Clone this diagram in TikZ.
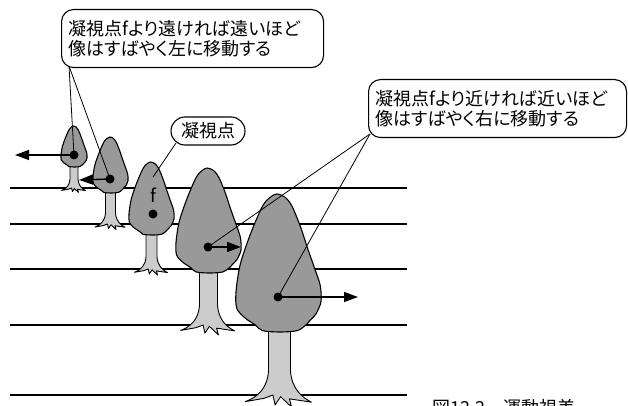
\documentclass[tikz,border=0pt]{standalone}
\usepackage{fontspec}
\newfontfamily\jp[RawFeature=+palt]{Noto Sans CJK JP}
\usetikzlibrary{arrows.meta}
\definecolor{crowngray}{RGB}{153,153,153}
\definecolor{trunkgray}{RGB}{204,204,204}

\tikzset{
  groundline/.style={line width=2.6pt},
  crownfill/.style={fill=crowngray, draw=black, line width=1.1pt},
  trunkfill/.style={fill=trunkgray, draw=black, line width=0.9pt, line join=round},
  motion/.style={line width=1.4pt, -{Triangle[length=14pt,width=10pt]}},
  dot/.style={circle, fill=black, inner sep=0pt, minimum size=9pt},
  leader/.style={line width=0.8pt},
  callbox/.style={draw, line width=1.1pt, fill=white, rounded corners=12pt,
    font=\jp\fontsize{18}{20.5}\selectfont, align=left, inner xsep=7pt},
  jplabel/.style={font=\jp\fontsize{18}{20.5}\selectfont, inner sep=0pt}
}

% trunk with roots: cx, crown top, crown width, crown height, half trunk width, ground
\newcommand\treetrunk[6]{%
  \pgfmathsetmacro\trtop{(#2+#4-4-#6)/#5}%
  \begin{scope}[shift={(#1,#6)}, scale=#5]
    \filldraw[trunkfill] (-1,\trtop) -- (-1,-2.2)
      .. controls (-1.1,-0.6) and (-2,0.2) .. (-3.1,0.6)
      -- (-1.4,0.3) -- (-0.6,0) -- (-0.4,0.9) -- (0.1,0.15) -- (1.1,1.1)
      -- (0.9,0.35) -- (2.9,0.65)
      .. controls (2,0.2) and (1.1,-0.6) .. (1,-2.2) -- (1,\trtop) -- cycle;
  \end{scope}}

% crown: cx, top, width, height
\newcommand\treecrown[4]{%
  \begin{scope}[shift={(#1,#2)}, xscale=#3, yscale=#4]
    \filldraw[crownfill] plot[smooth cycle, tension=0.5] coordinates {
      (-0.02,0) (-0.10,0.025) (-0.19,0.09) (-0.33,0.29) (-0.45,0.51)
      (-0.50,0.71) (-0.49,0.83) (-0.39,0.90) (-0.27,0.95) (-0.19,0.99)
      (0.02,1.0) (0.22,0.99) (0.32,0.95) (0.38,0.91) (0.44,0.87)
      (0.50,0.78) (0.49,0.66) (0.42,0.53) (0.34,0.39) (0.26,0.24)
      (0.16,0.09) (0.08,0.025)};
  \end{scope}}

\begin{document}
\begin{tikzpicture}[x=1pt, y=-1pt]
\useasboundingbox (0,0) rectangle (628,406);

% ground lines
\foreach \gy in {188,224,269,325,395}
  \draw[groundline] (10,\gy) -- (407,\gy);

% trunks
\treetrunk{74}{126}{26}{41}{4}{188}
\treetrunk{110.5}{137}{35}{56}{5}{224}
\treetrunk{151.5}{162}{45}{73}{5.5}{269}
\treetrunk{208.5}{168}{65}{105}{9}{325}
\treetrunk{279.5}{194}{85}{138}{11}{395}

% crowns
\treecrown{74}{126}{26}{41}
\treecrown{110.5}{137}{35}{56}
\treecrown{151.5}{162}{45}{73}
\treecrown{208.5}{168}{65}{105}
\treecrown{278.5}{194}{85}{138}

% image points on the crowns
\node[dot] (d1) at (74,155) {};
\node[dot] (d2) at (110,179) {};
\node[dot] (d3) at (153,214) {};
\node[dot] (d4) at (208,247) {};
\node[dot] (d5) at (278,297) {};
\node[jplabel] (f) at (153,195) {f};

% motion arrows
\coordinate (m1) at (15,155);
\coordinate (m2) at (79,180);
\coordinate (m4) at (241,247);
\coordinate (m5) at (358,297);
\draw[motion] (d1.center) -- (m1);
\draw[motion] (d2.center) -- (m2);
\draw[motion] (d4.center) -- (m4);
\draw[motion] (d5.center) -- (m5);

% callouts
\node[callbox, anchor=north west, text width=248pt, minimum height=58pt]
  (far) at (61,9) {凝視点fより遠ければ遠いほど\\像はすばやく左に移動する};
\node[callbox, anchor=north west, text width=244pt, minimum height=58pt]
  (near) at (368,79) {凝視点fより近ければ近いほど\\像はすばやく右に移動する};
\node[callbox, rounded corners=14pt, minimum width=74pt, minimum height=28pt,
  inner xsep=4pt, align=center] (fix) at (208,131) {凝視点};

% leader lines
\coordinate (farfoot) at (69,66);
\coordinate (nearfoot) at (370,134);
\coordinate (fixfoot) at (176,143);
\coordinate (ftop) at (153,177);
\draw[leader] (farfoot) -- (d1.center);
\draw[leader] (farfoot) -- (d2.center);
\draw[leader] (nearfoot) -- (d4.center);
\draw[leader] (nearfoot) -- (d5.center);
\draw[leader] (fixfoot) -- (ftop);

% caption (runs past the lower edge)
\node[jplabel, anchor=north west] (cap) at (432,399) {図12.2　運動視差};
\end{tikzpicture}
\end{document}
